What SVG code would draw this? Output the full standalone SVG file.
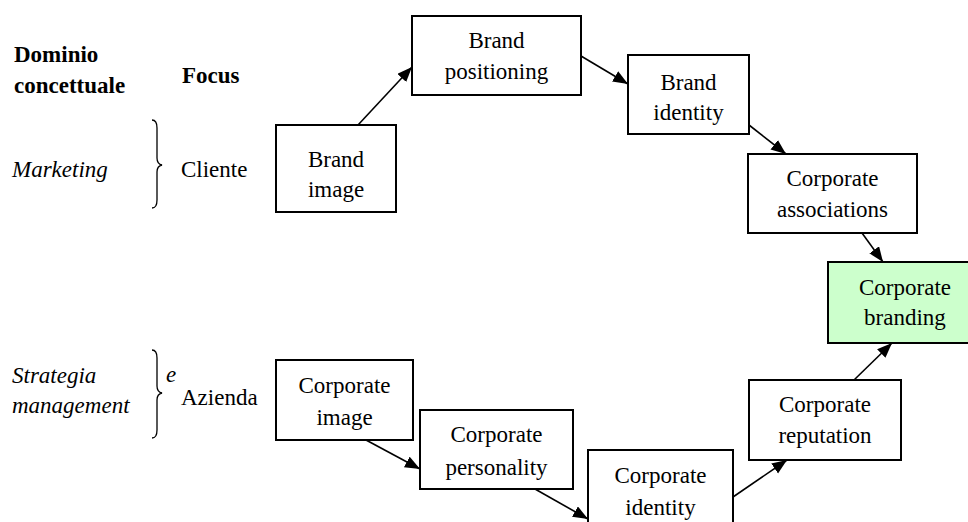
<svg xmlns="http://www.w3.org/2000/svg" width="968" height="522" viewBox="0 0 968 522">
<style>
text{font-family:"Liberation Serif","Times New Roman",serif;font-size:23px;fill:#000}
.b{font-weight:bold}
.i{font-style:italic}
.c{text-anchor:middle}
.box{fill:#fff;stroke:#000;stroke-width:2}
.green{fill:#ccffcc}
.edge{stroke:#000;stroke-width:1.6;fill:none;marker-end:url(#ah)}
.brace{stroke:#000;stroke-width:1.3;fill:none}
</style>
<defs>
<marker id="ah" markerUnits="userSpaceOnUse" markerWidth="16" markerHeight="14" refX="15" refY="6" orient="auto">
<path d="M0,0 L15,6 L0,12 Z" fill="#000"/>
</marker>
</defs>
<rect width="968" height="522" fill="#fff"/>

<g id="labels">
<text class="b" x="14" y="62">Dominio</text>
<text class="b" x="14" y="93">concettuale</text>
<text class="b" x="182" y="83">Focus</text>
<text class="i" x="12" y="177">Marketing</text>
<text x="181" y="177">Cliente</text>
<path class="brace" d="M152,120 Q157,120 157,128 L157,158 Q157,164 162,165 Q157,166 157,172 L157,200 Q157,208 152,208"/>
<text class="i" x="12" y="383">Strategia</text>
<text class="i" x="12" y="413">management</text>
<path class="brace" d="M152,350 Q157,350 157,358 L157,386 Q157,392 162,393 Q157,394 157,400 L157,430 Q157,438 152,438"/>
<text class="i" x="166" y="382">e</text>
<text x="181" y="405">Azienda</text>
</g>

<g id="connectors">
<line class="edge" x1="358" y1="125" x2="412" y2="67"/>
<line class="edge" x1="581" y1="56" x2="628" y2="84"/>
<line class="edge" x1="749" y1="125" x2="786" y2="154"/>
<line class="edge" x1="862" y1="233" x2="883" y2="262"/>
<line class="edge" x1="854" y1="380" x2="892" y2="343"/>
<line class="edge" x1="733" y1="497" x2="787" y2="460"/>
<line class="edge" x1="366" y1="440" x2="420" y2="469"/>
<line class="edge" x1="535" y1="489" x2="588" y2="519"/>
</g>

<g id="brand-image">
<rect class="box" x="276" y="125" width="120" height="87"/>
<text class="c" x="336" y="167">Brand</text>
<text class="c" x="336" y="197">image</text>
</g>
<g id="brand-positioning">
<rect class="box" x="412" y="16" width="169" height="79"/>
<text class="c" x="496.5" y="48">Brand</text>
<text class="c" x="496.5" y="79">positioning</text>
</g>
<g id="brand-identity">
<rect class="box" x="628" y="55" width="121" height="79"/>
<text class="c" x="688.5" y="90">Brand</text>
<text class="c" x="688.5" y="120">identity</text>
</g>
<g id="corporate-associations">
<rect class="box" x="748" y="154" width="169" height="79"/>
<text class="c" x="832.5" y="186">Corporate</text>
<text class="c" x="832.5" y="217">associations</text>
</g>
<g id="corporate-branding">
<rect class="box green" x="828" y="262" width="154" height="81"/>
<text class="c" x="905" y="295">Corporate</text>
<text class="c" x="905" y="325">branding</text>
</g>
<g id="corporate-reputation">
<rect class="box" x="749" y="380" width="152" height="80"/>
<text class="c" x="825" y="412">Corporate</text>
<text class="c" x="825" y="443">reputation</text>
</g>
<g id="corporate-image">
<rect class="box" x="276" y="360" width="137" height="80"/>
<text class="c" x="344.5" y="393">Corporate</text>
<text class="c" x="344.5" y="425">image</text>
</g>
<g id="corporate-personality">
<rect class="box" x="420" y="410" width="153" height="79"/>
<text class="c" x="496.5" y="442">Corporate</text>
<text class="c" x="496.5" y="475">personality</text>
</g>
<g id="corporate-identity">
<rect class="box" x="588" y="450" width="145" height="90"/>
<text class="c" x="660.5" y="483">Corporate</text>
<text class="c" x="660.5" y="515">identity</text>
</g>
</svg>
